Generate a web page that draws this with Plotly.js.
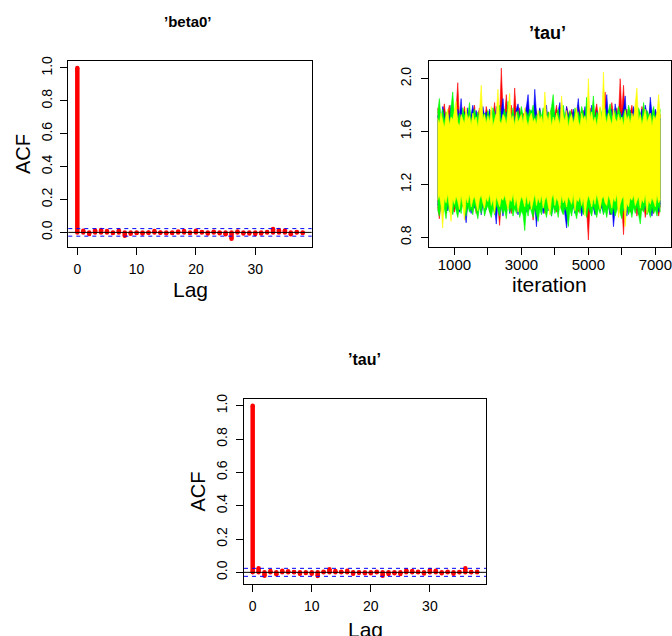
<!DOCTYPE html>
<html><head><meta charset="utf-8">
<script src="https://cdn.plot.ly/plotly-3.0.1.min.js"></script>
<style>html,body{margin:0;padding:0;background:#fff}#chart{width:672px;height:636px}</style>
</head><body><div id="chart"></div>
<script>
// ---------------- data ----------------
const lags = [0,1,2,3,4,5,6,7,8,9,10,11,12,13,14,15,16,17,18,19,20,21,22,23,24,25,26,27,28,29,30,31,32,33,34,35,36,37,38];
const acfBeta0 = [1.0, 0.010, -0.010, 0.012, 0.015, 0.008, -0.003, 0.012, -0.020, -0.008, -0.004, -0.006, -0.002, 0.008, -0.002, -0.005, -0.003, 0.005, 0.008, -0.003, 0.010, 0.003, -0.006, 0.004, -0.005, -0.012, -0.038, 0.006, -0.006, -0.007, -0.010, -0.006, 0.003, 0.020, 0.015, 0.012, -0.012, 0.002, -0.003];
const acfTau = [1.0, 0.025, -0.020, 0.008, -0.012, 0.010, 0.006, 0.002, -0.008, -0.004, -0.008, -0.022, 0.003, 0.018, 0.008, 0.004, 0.010, -0.008, -0.003, -0.006, -0.006, 0.003, -0.020, -0.010, -0.006, -0.010, 0.012, 0.008, 0.003, -0.007, 0.014, 0.010, -0.006, 0.003, -0.008, 0.002, 0.025, 0.002, 0.003];
const ciBeta0 = 0.023;
const ciTau = 0.024;

// trace plot of tau: per-bin (50 iterations) low / high envelope of each chain
const iterBins = [500,550,600,650,700,750,800,850,900,950,1000,1050,1100,1150,1200,1250,1300,1350,1400,1450,1500,1550,1600,1650,1700,1750,1800,1850,1900,1950,2000,2050,2100,2150,2200,2250,2300,2350,2400,2450,2500,2550,2600,2650,2700,2750,2800,2850,2900,2950,3000,3050,3100,3150,3200,3250,3300,3350,3400,3450,3500,3550,3600,3650,3700,3750,3800,3850,3900,3950,4000,4050,4100,4150,4200,4250,4300,4350,4400,4450,4500,4550,4600,4650,4700,4750,4800,4850,4900,4950,5000,5050,5100,5150,5200,5250,5300,5350,5400,5450,5500,5550,5600,5650,5700,5750,5800,5850,5900,5950,6000,6050,6100,6150,6200,6250,6300,6350,6400,6450,6500,6550,6600,6650,6700,6750,6800,6850,6900,6950,7000,7050,7100,7150];
const chainNames = ['chain 1','chain 2','chain 3','chain 4'];
const chainColors = ['#FF0000','#0000FF','#00FF00','#FFFF00'];
const redHi = [1.78,1.72,1.67,1.75,1.81,1.69,1.74,1.80,1.66,1.73, 1.70,1.77,1.97,1.68,1.75,1.71,1.79,1.65,1.73,1.76, 1.69,1.74,1.80,1.67,1.72,1.78,1.70,1.75,1.66,1.79, 1.73,1.68,1.76,1.71,1.82,1.67,1.74,1.70,2.08,1.77, 1.72,1.88,1.69,1.75,1.80,1.66,1.93,1.73,1.70,1.78, 1.67,1.74,1.71,1.79,1.68,1.76,1.72,1.65,1.81,1.74, 1.70,1.77,1.67,1.73,1.79,1.69,1.75,1.71,1.78,1.66, 1.74,1.80,1.68,1.72,1.76,1.70,1.65,1.79,1.73,1.69, 1.77,1.71,1.75,1.67,1.80,1.73,1.69,1.76,1.70,1.74, 1.68,1.78,1.72,1.66,1.75,1.81,1.70,1.74,1.67,1.77, 1.90,1.71,1.76,1.69,1.82,1.73,1.67,1.78,1.72,2.00, 1.75,1.95,1.70,1.77,1.68,1.74,1.80,1.71,1.66,1.76, 1.73,1.69,1.79,1.72,1.67,1.75,1.70,1.78,1.74,1.68, 1.76,1.71,1.69,1.73];
const redLo = [1.03,0.94,1.07,1.01,1.09,0.98,1.05,1.10,1.02,1.06, 0.99,1.08,1.04,1.00,1.07,1.03,1.09,0.97,1.05,1.02, 1.08,1.01,1.06,0.98,1.04,1.10,1.00,1.07,1.03,1.05, 1.09,0.99,1.04,1.06,1.01,1.08,1.03,0.89,1.07,1.02, 1.05,1.00,1.09,1.04,0.98,1.06,1.02,1.08,1.01,1.05, 1.07,0.99,1.03,1.09,1.05,1.01,1.06,0.93,1.04,1.08, 1.00,1.05,1.02,1.07,0.98,1.04,1.09,1.01,1.06,1.03, 1.08,0.99,1.05,1.02,1.07,1.00,1.04,1.09,0.97,1.06, 1.03,1.08,1.01,1.05,0.99,1.07,1.02,1.04,1.09,1.00, 0.78,1.05,1.02,1.08,0.98,1.06,1.03,1.00,1.07,1.04, 1.01,1.09,1.05,0.97,1.03,1.07,1.00,1.06,1.02,1.08, 1.04,0.82,1.06,1.01,1.08,0.99,1.05,1.03,1.07,0.96, 1.04,1.09,1.00,1.06,0.95,1.03,1.07,1.01,1.05,0.98, 1.06,1.02,0.96,1.04];
const blueHi = [1.71,1.76,1.68,1.79,1.73,1.66,1.75,1.70,1.80,1.67, 1.74,1.69,1.77,1.72,1.85,1.68,1.75,1.71,1.78,1.65, 1.73,1.80,1.69,1.76,1.70,1.74,1.67,1.79,1.72,1.75, 1.68,1.77,1.71,1.74,1.66,1.79,1.73,1.69,1.76,1.85, 1.70,1.75,1.67,1.78,1.72,1.74,1.69,1.77,1.81,1.71, 1.75,1.68,1.73,1.79,1.88,1.70,1.76,1.67,1.92,1.74, 1.72,1.78,1.69,1.75,1.71,1.80,1.66,1.74,1.70,1.77, 1.73,1.68,1.76,1.82,1.70,1.74,1.67,1.79,1.72,1.75, 1.69,1.77,1.71,1.74,1.85,1.68,1.76,1.72,1.79,1.70, 1.74,1.67,1.80,1.73,1.69,1.76,1.71,1.75,1.68,1.78, 1.72,1.88,1.70,1.74,1.77,1.67,1.81,1.73,1.69,1.75, 1.71,1.78,1.87,1.68,1.74,1.76,1.70,1.79,1.72,1.67, 1.75,1.71,1.77,1.69,1.80,1.73,1.68,1.86,1.74,1.70, 1.77,1.72,1.75,1.69];
const blueLo = [1.05,1.01,1.08,0.97,1.04,1.09,1.00,1.06,1.03,0.98, 1.07,1.02,1.05,0.99,1.08,1.04,1.01,0.91,1.06,1.03, 0.98,1.07,1.02,1.05,1.00,1.09,0.97,1.04,1.06,1.01, 1.08,1.03,0.99,1.05,1.02,0.90,1.07,1.00,1.04,0.96, 1.06,1.02,1.09,0.98,1.05,1.01,1.07,1.03,0.97,1.04, 1.00,1.08,1.03,0.99,1.06,1.02,1.05,0.97,1.04,0.88, 1.07,1.01,1.05,0.98,1.03,1.08,1.00,1.06,0.96,1.04, 1.02,1.07,0.99,1.05,1.01,1.08,0.97,0.87,1.03,1.06, 1.00,1.04,0.98,1.07,1.02,1.05,0.96,1.03,1.08,1.01, 1.05,0.99,1.06,1.02,0.97,1.04,1.08,1.00,1.03,0.98, 1.06,1.02,1.04,0.97,1.07,0.88,1.01,1.05,0.99,1.03, 1.08,1.00,1.04,0.96,1.06,1.02,0.98,1.05,1.01,1.07, 0.97,1.03,1.06,1.00,1.04,0.98,1.07,1.02,0.96,1.05, 1.01,1.04,0.99,1.06];
const greenHi = [1.74,1.85,1.70,1.77,1.68,1.75,1.72,1.66,1.79,1.90, 1.71,1.76,1.69,1.74,1.67,1.78,1.72,1.75,1.70,1.82, 1.68,1.73,1.77,1.70,1.75,1.66,1.79,1.72,1.74,1.69, 1.76,1.71,1.67,1.78,1.73,1.70,1.75,1.80,1.68,1.72, 1.77,1.69,1.83,1.74,1.71,1.78,1.67,1.73,1.76,1.70, 1.79,1.72,1.68,1.75,1.71,1.77,1.74,1.80,1.69,1.73, 1.67,1.76,1.71,1.78,1.73,1.69,1.75,1.72,1.79,1.88, 1.70,1.74,1.77,1.68,1.72,1.80,1.71,1.75,1.69,1.76, 1.73,1.67,1.78,1.72,1.75,1.70,1.79,1.74,1.68,1.86, 1.71,1.76,1.73,1.87,1.69,1.75,1.72,1.78,1.74,1.67, 1.77,1.70,1.75,1.81,1.72,1.68,1.76,1.71,1.79,1.74, 1.69,1.73,1.77,1.70,1.80,1.75,1.67,1.72,1.76,1.71, 1.78,1.74,1.69,1.82,1.71,1.76,1.73,1.68,1.75,1.79, 1.70,1.74,1.72,1.77];
const greenLo = [1.01,0.96,1.04,0.98,1.02,0.94,1.06,0.99,1.03,0.97, 1.05,1.00,0.95,1.03,0.98,1.06,1.01,0.96,1.04,0.99, 1.02,0.97,1.05,1.00,0.94,1.03,0.98,1.06,0.96,1.01, 1.04,0.99,0.95,1.02,0.97,1.05,1.00,0.96,1.03,0.98, 1.01,0.94,1.06,0.99,1.03,0.96,1.02,0.98,1.05,0.95, 1.00,0.97,0.85,1.02,0.96,1.04,0.99,0.95,1.03,0.98, 0.92,1.01,0.97,1.05,0.99,0.95,1.03,1.00,0.96,1.04, 0.98,1.02,0.95,1.06,1.00,0.97,1.03,0.99,0.88,1.01, 0.96,1.04,0.99,0.94,1.02,0.98,1.05,0.97,1.01,0.95, 1.03,0.99,0.96,1.04,1.00,0.95,1.02,0.98,1.06,0.97, 1.01,0.95,1.04,0.99,0.97,1.03,0.96,1.00,1.05,0.98, 0.94,1.02,0.99,1.05,0.97,1.01,0.95,1.03,0.98,1.04, 0.96,0.90,1.02,0.99,1.05,0.97,1.00,0.95,1.03,0.98, 1.01,0.96,1.04,0.99];
const yellowHi = [1.70,1.66,1.74,1.68,1.63,1.72,1.77,1.65,1.71,1.69, 1.75,1.83,1.67,1.64,1.73,1.70,1.66,1.78,1.69,1.72, 1.65,1.74,1.68,1.71,1.63,1.76,1.95,1.69,1.73,1.66, 1.72,1.67,1.79,1.64,1.70,1.74,1.92,1.68,1.66,1.73, 1.71,1.65,1.76,1.89,1.69,1.72,1.64,1.75,1.67,1.70, 1.73,1.66,1.78,1.69,1.64,1.71,1.74,1.67,1.70,1.65, 1.76,1.69,1.72,1.66,1.90,1.73,1.68,1.75,1.64,1.71, 1.67,1.74,1.70,1.65,1.87,1.72,1.68,1.76,1.63,1.70, 1.73,1.66,1.71,1.78,1.68,1.64,1.74,1.69,1.72,1.66, 2.00,1.70,1.75,1.67,1.71,1.64,1.73,1.79,1.68,2.05, 1.72,1.66,1.74,1.69,1.65,1.77,1.70,1.67,1.73,1.68, 1.71,1.64,1.76,1.69,1.72,1.66,1.74,1.70,1.81,1.93, 1.68,1.73,1.65,1.71,1.77,1.67,1.70,1.74,1.64,1.72, 1.69,1.75,1.88,1.70];
const yellowLo = [1.08,1.12,1.04,0.87,1.10,1.06,1.13,1.02,0.92,1.09, 1.05,1.11,1.07,1.01,1.12,1.04,0.93,1.10,1.06,1.13, 1.03,1.08,1.11,1.05,1.00,1.09,1.12,1.06,1.02,1.10, 1.07,1.13,1.04,1.09,0.98,1.11,1.06,1.03,1.10,1.08, 1.12,1.05,1.01,1.09,1.07,1.13,1.04,1.10,0.99,1.06, 1.11,1.08,1.03,1.12,1.05,1.09,1.01,1.07,1.13,1.04, 1.10,1.06,1.12,1.02,1.08,1.11,1.05,0.97,1.09,1.13, 1.04,1.10,1.07,1.01,1.12,1.06,1.09,1.03,1.11,1.08, 1.05,1.13,1.00,1.09,1.07,1.11,1.04,1.10,0.96,1.06, 1.12,1.08,1.03,1.10,1.05,1.13,1.07,1.01,1.09,1.11, 1.06,1.04,1.12,1.08,1.02,1.10,1.07,1.13,0.95,1.05, 1.09,1.11,0.88,1.06,1.03,1.10,1.08,1.12,1.04,1.07, 1.11,1.02,1.09,1.06,1.13,0.98,1.08,1.05,1.10,1.07, 1.03,1.12,1.06,1.09];
const chainHi = [redHi, blueHi, greenHi, yellowHi];
const chainLo = [redLo, blueLo, greenLo, yellowLo];

// ---------------- layout helpers ----------------
const W = 672, H = 636;
const FONT = 'Liberation Sans, Arial, Helvetica, sans-serif';
const px = v => v / W;
const py = v => 1 - v / H;

function acfTraces(vals, xa, ya) {
  const xs = [], ys = [];
  lags.forEach((k, i) => { xs.push(k, k, null); ys.push(0, vals[i], null); });
  return {
    type: 'scatter', mode: 'lines+markers', x: xs, y: ys, xaxis: xa, yaxis: ya,
    line: {color: '#FF0000', width: 4.5}, marker: {color: '#FF0000', size: 4.5},
    showlegend: false, hoverinfo: 'skip'
  };
}

const traces = [];
traces.push(acfTraces(acfBeta0, 'x', 'y'));
for (let c = 0; c < 4; c++) {
  traces.push({type: 'scatter', mode: 'lines', x: iterBins, y: chainLo[c], xaxis: 'x2', yaxis: 'y2',
    line: {color: chainColors[c], width: 0.6}, showlegend: false, hoverinfo: 'skip', name: chainNames[c]});
  traces.push({type: 'scatter', mode: 'lines', x: iterBins, y: chainHi[c], xaxis: 'x2', yaxis: 'y2',
    fill: 'tonexty', fillcolor: chainColors[c],
    line: {color: chainColors[c], width: 0.6}, showlegend: false, hoverinfo: 'skip', name: chainNames[c]});
}
traces.push(acfTraces(acfTau, 'x3', 'y3'));

const axBase = {
  showgrid: false, zeroline: false, showline: true, mirror: true, linecolor: '#000', linewidth: 1,
  ticks: 'outside', ticklen: 7, tickwidth: 1, tickcolor: '#000', ticklabeloverflow: 'allow',
  tickfont: {family: FONT, size: 14, color: '#000'}, fixedrange: true
};
const accTicks = {tickvals: [0, 0.2, 0.4, 0.6, 0.8, 1.0], ticktext: ['0.0','0.2','0.4','0.6','0.8','1.0'], tickangle: -90, ticklabelstandoff: 3};
const lagTicks = {tickvals: [0, 10, 20, 30], ticktext: ['0','10','20','30'], ticklabelstandoff: 2};

function hline(y, xa, ya, color, dash) {
  return {type: 'line', xref: xa + ' domain', x0: 0, x1: 1, yref: ya, y0: y, y1: y,
    line: {color: color, width: 1, dash: dash || 'solid'}, layer: 'above'};
}

function ann(text, x, y, size, bold, angle) {
  return {text: bold ? '<b>' + text + '</b>' : text, xref: 'paper', yref: 'paper',
    x: px(x), y: py(y), xanchor: 'center', yanchor: 'middle', showarrow: false,
    textangle: angle || 0, font: {family: FONT, size: size, color: '#000'}};
}

const layout = {
  width: W, height: H, margin: {l: 0, r: 0, t: 0, b: 0},
  paper_bgcolor: '#fff', plot_bgcolor: '#fff', showlegend: false,
  xaxis: Object.assign({}, axBase, lagTicks, {domain: [px(68.3), px(311.7)], anchor: 'y', range: [-1.52, 39.52]}),
  yaxis: Object.assign({}, axBase, accTicks, {domain: [py(246.7), py(61)], anchor: 'x', range: [-0.087, 1.042]}),
  xaxis2: Object.assign({}, axBase, {domain: [px(428.7), px(671)], anchor: 'y2', range: [232, 7468],
    tickvals: [1000,2000,3000,4000,5000,6000,7000], ticktext: ['1000','','3000','','5000','','7000'],
    ticklabelstandoff: -3, tickfont: {family: FONT, size: 15, color: '#000'}}),
  yaxis2: Object.assign({}, axBase, {domain: [py(246.7), py(61)], anchor: 'x2', range: [0.729, 2.134],
    tickvals: [0.8, 1.2, 1.6, 2.0], ticktext: ['0.8','1.2','1.6','2.0'], tickangle: -90, ticklabelstandoff: 4}),
  xaxis3: Object.assign({}, axBase, lagTicks, {domain: [px(244), px(486)], anchor: 'y3', range: [-1.47, 39.5]}),
  yaxis3: Object.assign({}, axBase, accTicks, {domain: [py(584), py(398.7)], anchor: 'x3', range: [-0.070, 1.042]}),
  shapes: [
    hline(0, 'x', 'y', '#000'), hline(ciBeta0, 'x', 'y', '#0000FF', '4px,4px'), hline(-ciBeta0, 'x', 'y', '#0000FF', '4px,4px'),
    hline(0, 'x3', 'y3', '#000'), hline(ciTau, 'x3', 'y3', '#0000FF', '4px,4px'), hline(-ciTau, 'x3', 'y3', '#0000FF', '4px,4px')
  ],
  annotations: [
    ann("’beta0’", 188.3, 21.5, 15, true),
    ann('ACF', 23, 154, 20, false, -90),
    ann('Lag', 190, 289, 21, false),
    ann("’tau’", 547.3, 33, 18, true),
    ann('iteration', 549.7, 284, 21, false),
    ann("’tau’", 364.2, 359, 16, true),
    ann('ACF', 198.3, 491.3, 20, false, -90),
    ann('Lag', 365.8, 629, 21, false)
  ]
};

Plotly.newPlot('chart', traces, layout, {staticPlot: true, displayModeBar: false});
</script>
</body></html>
